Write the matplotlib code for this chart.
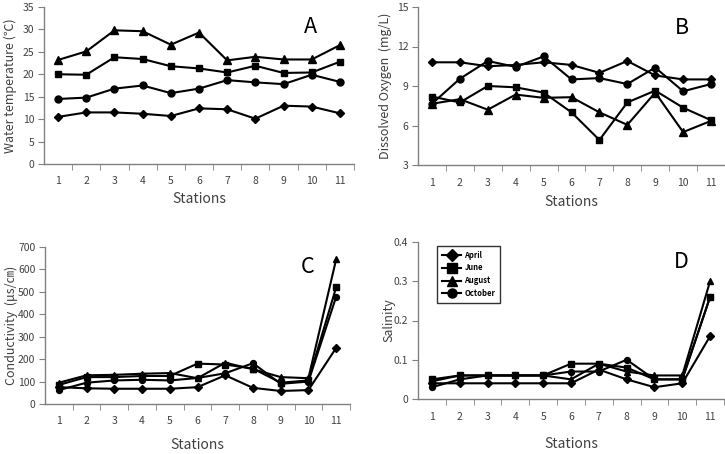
import matplotlib
matplotlib.use("Agg")
import matplotlib.pyplot as plt
import numpy as np

plt.rcParams['font.family'] = ['Noto Sans CJK KR', 'DejaVu Sans']

stations = list(range(1, 12))
station_labels = [str(s) for s in stations]
months = ["April", "June", "August", "October"]
markers = ["D", "s", "^", "o"]

# Panel A: water temperature
temp_april = [10.5, 11.5, 11.5, 11.2, 10.7, 12.4, 12.2, 10.1, 13.0, 12.8, 11.3]
temp_june = [20.0, 19.9, 23.8, 23.4, 21.8, 21.3, 20.4, 21.9, 20.3, 20.4, 22.8]
temp_august = [23.2, 25.1, 29.8, 29.6, 26.6, 29.3, 23.1, 23.9, 23.3, 23.3, 26.5]
temp_october = [14.5, 14.8, 16.8, 17.5, 15.8, 16.8, 18.7, 18.2, 17.8, 19.9, 18.3]

# Panel B: dissolved oxygen
do_april = [10.8, 10.8, 10.5, 10.6, 10.8, 10.6, 10.0, 10.9, 9.8, 9.5, 9.5]
do_june = [8.2, 7.75, 9.0, 8.9, 8.5, 7.0, 4.9, 7.75, 8.65, 7.35, 6.4]
do_august = [7.65, 8.0, 7.2, 8.35, 8.1, 8.15, 7.0, 6.05, 8.5, 5.5, 6.35]
do_october = [7.65, 9.55, 10.9, 10.45, 11.25, 9.5, 9.6, 9.15, 10.4, 8.6, 9.15]

# Panel C: conductivity
cond_april = [75, 70, 68, 68, 68, 75, 128, 72, 58, 62, 250]
cond_june = [85, 120, 120, 125, 125, 180, 176, 158, 95, 105, 520]
cond_august = [95, 128, 130, 135, 138, 115, 184, 155, 120, 115, 645]
cond_october = [62, 95, 105, 108, 105, 116, 137, 182, 90, 100, 478]

# Panel D: salinity
sal_april = [0.04, 0.04, 0.04, 0.04, 0.04, 0.04, 0.075, 0.05, 0.03, 0.04, 0.16]
sal_june = [0.05, 0.06, 0.06, 0.06, 0.06, 0.09, 0.09, 0.08, 0.05, 0.05, 0.26]
sal_august = [0.045, 0.06, 0.06, 0.06, 0.06, 0.05, 0.09, 0.07, 0.06, 0.06, 0.30]
sal_october = [0.03, 0.05, 0.06, 0.06, 0.06, 0.07, 0.07, 0.10, 0.05, 0.05, 0.26]

W, H = 725, 454
fig = plt.figure(figsize=(W / 100, H / 100), dpi=100)

TXT = "#404040"
SPINE = "#808080"


def make_ax(left, right, top, bottom):
    return fig.add_axes([left / W, 1 - bottom / H, (right - left) / W, (bottom - top) / H])


def style(ax, series, ylim, yticks, ylabel, letter, ms_scale=1.0):
    for data, m in zip(series, markers):
        ms = {"D": 4.3, "s": 5.0, "^": 5.5, "o": 5.0}[m] * ms_scale
        ax.plot(stations, data, color="black", lw=1.5, marker=m, ms=ms,
                markerfacecolor="black", markeredgecolor="black")
    ax.set_xlim(0.5, 11.5)
    ax.set_ylim(*ylim)
    ax.set_yticks(yticks)
    ax.set_xticks(stations)
    ax.set_xticklabels(station_labels)
    ax.set_xticks(np.arange(1.5, 12.0, 1.0), minor=True)
    ax.tick_params(axis="x", which="major", length=0, pad=9, labelsize=7.5, labelcolor=TXT)
    ax.tick_params(axis="x", which="minor", length=4, direction="out", color=SPINE)
    ax.tick_params(axis="y", which="major", length=4, direction="out", color=SPINE,
                   labelsize=7.5, labelcolor=TXT, pad=3)
    for s in ["top", "right"]:
        ax.spines[s].set_visible(False)
    for s in ["left", "bottom"]:
        ax.spines[s].set_color(SPINE)
        ax.spines[s].set_linewidth(1.0)
    ax.set_ylabel(ylabel, fontsize=9, color=TXT)
    ax.set_xlabel("Stations", fontsize=10, color=TXT)
    ax.text(0.86, 0.87, letter, transform=ax.transAxes, fontsize=15.5, color="black",
            ha="center", va="center")
    return ax


axA = make_ax(44, 354, 7, 164)
style(axA, [temp_april, temp_june, temp_august, temp_october], (0, 35), range(0, 36, 5),
      "Water temperature (℃)", "A")
axA.yaxis.set_label_coords(-0.086, 0.5)
axA.xaxis.set_label_coords(0.5, -0.18)

axB = make_ax(418, 725, 7, 165)
style(axB, [do_april, do_june, do_august, do_october], (3, 15), range(3, 16, 3),
      "Dissolved Oxygen  (mg/L)", "B")
axB.yaxis.set_label_coords(-0.085, 0.5)
axB.xaxis.set_label_coords(0.5, -0.19)

axC = make_ax(45, 350, 247, 404)
style(axC, [cond_april, cond_june, cond_august, cond_october], (0, 700), range(0, 701, 100),
      "Conductivity  (μs/㎝)", "C", ms_scale=0.85)
axC.yaxis.set_label_coords(-0.09, 0.5)
axC.xaxis.set_label_coords(0.5, -0.215)

axD = make_ax(418, 724, 242, 399)
style(axD, [sal_april, sal_june, sal_august, sal_october], (0, 0.4), [0, 0.1, 0.2, 0.3, 0.4],
      "Salinity", "D", ms_scale=0.85)
axD.set_yticklabels(["0", "0.1", "0.2", "0.3", "0.4"])
axD.yaxis.set_label_coords(-0.075, 0.5)
axD.xaxis.set_label_coords(0.5, -0.245)

handles = [plt.Line2D([], [], color="black", lw=1.5, marker=m, ms=6.5) for m in markers]
leg = fig.legend(handles, months, loc="upper left",
                 bbox_to_anchor=(437 / W, 1 - 246 / H), bbox_transform=fig.transFigure,
                 fancybox=False, edgecolor="#333333", framealpha=1,
                 prop={"size": 5.5, "weight": "bold"}, handlelength=2.6,
                 handletextpad=0.4, labelspacing=0.5, borderpad=0.6, borderaxespad=0)
leg.get_frame().set_linewidth(1.0)

fig.savefig("out.png", dpi=100)
